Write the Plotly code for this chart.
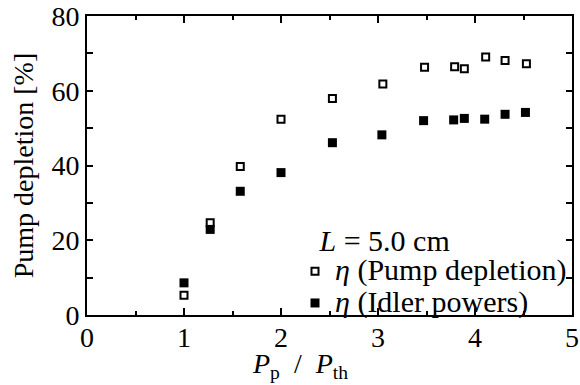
import plotly.graph_objects as go

ratio_pump = [1.0, 1.27, 1.58, 2.0, 2.53, 3.05, 3.48, 3.79, 3.89, 4.11, 4.31, 4.53]
pump_depletion = [5.3, 24.7, 39.7, 52.4, 57.9, 61.8, 66.3, 66.4, 65.9, 69.0, 68.1, 67.2]

ratio_idler = [1.0, 1.27, 1.58, 2.0, 2.53, 3.04, 3.47, 3.78, 3.89, 4.10, 4.31, 4.52]
idler_eff = [8.6, 22.9, 33.1, 38.1, 46.1, 48.2, 52.0, 52.2, 52.6, 52.4, 53.7, 54.2]

y_ticks = [0, 10, 20, 30, 40, 50, 60, 70, 80]
y_ticktext = ["0", "", "20", "", "40", "", "60", "", "80"]
x_ticks = [0, 1, 2, 3, 4, 5]

FONT = "Liberation Serif"
FS = 28


def big(s):
    return '<span style="font-size:30px">' + s + '</span>'


fig = go.Figure()
fig.add_trace(go.Scatter(
    x=ratio_pump, y=pump_depletion, mode="markers",
    name=big("<i>η</i> (Pump depletion)"),
    marker=dict(symbol="square-open", size=7, color="black", line=dict(width=2, color="black")),
))
fig.add_trace(go.Scatter(
    x=ratio_idler, y=idler_eff, mode="markers",
    name=big("<i>η</i> (Idler powers)"),
    marker=dict(symbol="square", size=9, color="black"),
))

axis_common = dict(
    showline=True, linecolor="black", linewidth=2, mirror="ticks",
    ticks="inside", tickcolor="black", tickwidth=2,
    showgrid=False, zeroline=False, automargin=False,
    tickfont=dict(family=FONT, size=FS, color="black"),
)

fig.update_xaxes(
    range=[0, 5], tickvals=x_ticks, ticklen=7, ticklabelstandoff=-4,
    minor=dict(dtick=0.5, ticks="inside", ticklen=4, tickwidth=2, tickcolor="black", showgrid=False),
    **axis_common,
)
fig.update_yaxes(
    range=[0, 80], tickvals=y_ticks, ticktext=y_ticktext, ticklen=6,
    title=dict(text="Pump depletion [%]", font=dict(family=FONT, size=FS, color="black"), standoff=10),
    **axis_common,
)

fig.add_annotation(
    text="<i>P</i><sub>p</sub>  /  <i>P</i><sub>th</sub>",
    xref="paper", yref="paper", x=0.44, y=-0.17,
    xanchor="center", yanchor="middle", showarrow=False,
    font=dict(family=FONT, size=FS, color="black"),
)

fig.update_layout(
    width=580, height=385,
    margin=dict(l=87, r=8, t=16, b=70),
    plot_bgcolor="white", paper_bgcolor="white",
    font=dict(family=FONT, size=FS, color="black"),
    showlegend=True,
    legend=dict(
        x=1.0, y=-0.03, xanchor="right", yanchor="bottom",
        bgcolor="rgba(0,0,0,0)",
        title=dict(text=big("   <i>L</i> = 5.0 cm"), font=dict(family=FONT, size=22, color="black")),
        font=dict(family=FONT, size=22, color="black"),
        itemwidth=30, tracegroupgap=0,
    ),
)

fig.write_html(
    "out.html",
    config={"displayModeBar": False},
    post_script="document.body.style.margin='0';document.body.style.overflow='hidden';",
)
